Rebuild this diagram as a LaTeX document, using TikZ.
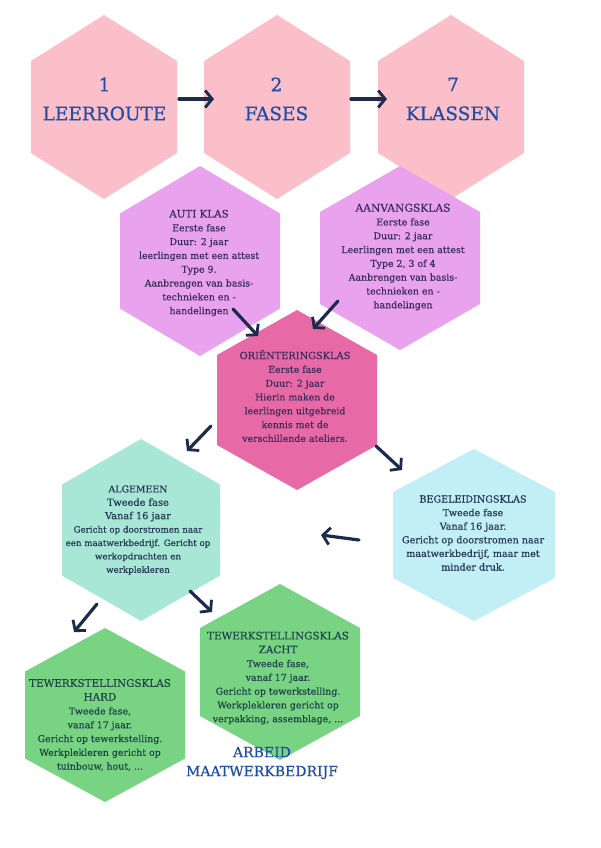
\documentclass[tikz,border=0pt]{standalone}
\usepackage{fontspec}
\setmainfont[FakeBold=0.5]{DejaVu Serif}
\newfontfamily\heavyserif[FakeBold=0.8]{DejaVu Serif}
\usetikzlibrary{arrows.meta}
\definecolor{pinkhex}{HTML}{FBBFC9}
\definecolor{purplehex}{HTML}{E9A2EE}
\definecolor{orienthex}{HTML}{E76AA6}
\definecolor{minthex}{HTML}{A8E7D6}
\definecolor{cyanhex}{HTML}{C2EEF6}
\definecolor{greenhex}{HTML}{78D383}
\definecolor{titleblue}{HTML}{1F4EA6}
\definecolor{arrownavy}{HTML}{1C2B4A}
\definecolor{txtpurple}{HTML}{3C2C5C}
\definecolor{txtnavy}{HTML}{243A55}
\definecolor{txtgreen}{HTML}{1F4648}
\newcommand{\myhex}[5]{\fill[#5] ({#1},{#2-#4}) -- ({#1+#3},{#2-#4/2}) -- ({#1+#3},{#2+#4/2}) -- ({#1},{#2+#4}) -- ({#1-#3},{#2+#4/2}) -- ({#1-#3},{#2-#4/2}) -- cycle;}
\tikzset{
  bigtxt/.style={align=center, text=titleblue, font=\heavyserif\fontsize{18.5}{29}\selectfont, inner sep=0pt},
  bodytxt/.style={align=center, font=\fontsize{9.4}{13.8}\selectfont, inner sep=0pt},
  foottxt/.style={align=center, text=titleblue, font=\fontsize{14}{19}\selectfont, inner sep=0pt},
  arr/.style={draw=arrownavy, line width=3.2pt, line cap=round, -{Straight Barb[length=7pt,width=17pt,line width=2.8pt]}}
}
\newcommand{\ttl}[2]{{\fontsize{#1}{13.8}\selectfont #2}}
\begin{document}
\begin{tikzpicture}[x=1pt,y=-1pt]
\useasboundingbox (0,0) rectangle (600,848);
\fill[white] (0,0) rectangle (600,848);
% top row
\myhex{104}{107}{73}{92}{pinkhex}
\myhex{277}{107}{73}{92}{pinkhex}
\myhex{451}{107}{73}{92}{pinkhex}
% purple
\myhex{200}{261}{80}{95}{purplehex}
\myhex{400}{258}{80}{92}{purplehex}
% orientation
\myhex{297}{400}{80}{90}{orienthex}
% second phase
\myhex{141}{530}{79}{91}{minthex}
\myhex{474}{535}{81}{86}{cyanhex}
\myhex{105}{715}{80}{87}{greenhex}
\myhex{280}{672}{80}{88}{greenhex}

\node[bigtxt] (leerroute) at (104.5,99) {1\\LEERROUTE};
\node[bigtxt] (fases) at (276.5,99) {2\\FASES};
\node[bigtxt] (klassen) at (453,99) {7\\KLASSEN};

\node[bodytxt, text=txtpurple] (auti) at (199,263) {\ttl{10.3}{AUTI KLAS}\\Eerste fase\\Duur: 2 jaar\\leerlingen met een attest\\Type 9.\\Aanbrengen van basis-\\technieken en -\\handelingen};
\node[bodytxt, text=txtpurple] (aanvang) at (403,257) {\ttl{10.7}{AANVANGSKLAS}\\Eerste fase\\Duur: 2 jaar\\Leerlingen met een attest\\Type 2, 3 of 4\\Aanbrengen van basis-\\technieken en -\\handelingen};
\node[bodytxt, text=txtpurple] (orient) at (295,396) {\ttl{9.8}{ORIËNTERINGSKLAS}\\Eerste fase\\Duur: 2 jaar\\Hierin maken de\\leerlingen uitgebreid\\kennis met de\\verschillende ateliers.};
\node[bodytxt, text=txtnavy, font=\fontsize{8.7}{13.4}\selectfont] (algemeen) at (138,530) {\ttl{9.4}{ALGEMEEN}\\\ttl{9.8}{Tweede fase}\\\ttl{9.8}{Vanaf 16 jaar}\\Gericht op doorstromen naar\\een maatwerkbedrijf. Gericht op\\werkopdrachten en\\werkplekleren};
\node[bodytxt, text=txtnavy, font=\fontsize{9.6}{13.6}\selectfont] (begeleiding) at (473,533) {\ttl{9.6}{BEGELEIDINGSKLAS}\\Tweede fase\\Vanaf 16 jaar.\\Gericht op doorstromen naar\\maatwerkbedrijf, maar met\\minder druk.};
\node[bodytxt, text=txtgreen] (hard) at (100,725) {\ttl{10.4}{TEWERKSTELLINGSKLAS}\\\ttl{10.4}{HARD}\\Tweede fase,\\vanaf 17 jaar.\\Gericht op tewerkstelling.\\Werkplekleren gericht op\\tuinbouw, hout, ...};
\node[bodytxt, text=txtgreen] (zacht) at (278,678) {\ttl{10.4}{TEWERKSTELLINGSKLAS}\\\ttl{10.4}{ZACHT}\\Tweede fase,\\vanaf 17 jaar.\\Gericht op tewerkstelling.\\Werkplekleren gericht op\\verpakking, assemblage, ...};
\node[foottxt] (arbeid) at (262,763) {ARBEID\\MAATWERKBEDRIJF};

% arrows
\coordinate (a1s) at (179,99);  \coordinate (a1e) at (214,99);
\coordinate (a2s) at (351,99);  \coordinate (a2e) at (387,99);
\coordinate (a3s) at (233,309); \coordinate (a3e) at (258,336);
\coordinate (a4s) at (338,301); \coordinate (a4e) at (313,329);
\coordinate (a5s) at (211,426); \coordinate (a5e) at (187,451);
\coordinate (a6s) at (376,446); \coordinate (a6e) at (402,470);
\coordinate (a7s) at (359,540); \coordinate (a7e) at (321,535);
\coordinate (a8s) at (190,591); \coordinate (a8e) at (212,612);
\coordinate (a9s) at (97,604);  \coordinate (a9e) at (74,632);
\draw[arr] (a1s) -- (a1e);
\draw[arr] (a2s) -- (a2e);
\draw[arr] (a3s) -- (a3e);
\draw[arr] (a4s) -- (a4e);
\draw[arr] (a5s) -- (a5e);
\draw[arr] (a6s) -- (a6e);
\draw[arr] (a7s) -- (a7e);
\draw[arr] (a8s) -- (a8e);
\draw[arr] (a9s) -- (a9e);
\end{tikzpicture}
\end{document}
